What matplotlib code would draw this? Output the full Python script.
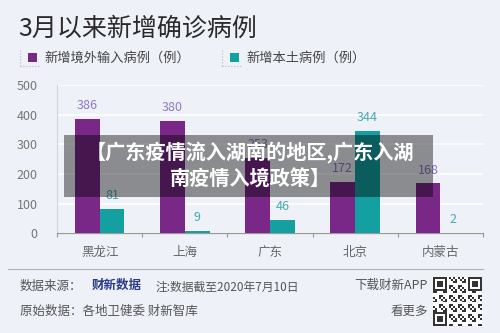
"""
3月以来新增确诊病例 - bar chart recreation
"""

import numpy as np
import matplotlib
matplotlib.use('Agg')
import matplotlib.pyplot as plt
from matplotlib.patches import Rectangle
from matplotlib.lines import Line2D

plt.rcParams['font.family'] = ['Noto Sans CJK SC', 'DejaVu Sans']

#---------------------------------------------------------------------------------------------------
# Data
#---------------------------------------------------------------------------------------------------

regions = ['黑龙江', '上海', '广东', '北京', '内蒙古']
imported = [386, 380, 253, 172, 168]
local = [81, 9, 46, 344, 2]
series_names = ['新增境外输入病例（例）', '新增本土病例（例）']
yticks = [0, 100, 200, 300, 400, 500]

#---------------------------------------------------------------------------------------------------
# Styles
#---------------------------------------------------------------------------------------------------

bg = '#eef1f7'
purple = '#7a2888'
teal = '#14a0a0'
purple_lbl = '#9078c6'
teal_lbl = '#45abad'
W, H = 500, 333

fig = plt.figure(figsize=(5, 3.33), dpi=100, facecolor=bg)

# Title and legend
fig.text(18/W, 1-29/H, '3月以来新增确诊病例', fontsize=18, color='#2a2a2a', va='center', ha='left')

for x0, col, name in [(20, purple, series_names[0]), (222, teal, series_names[1])]:
    fig.patches.append(Rectangle(((x0+8)/W, 1-62/H), 9/W, 9/H, transform=fig.transFigure,
                                 facecolor=col, edgecolor='none'))
    fig.lines.append(Line2D([x0/W, x0/W], [1-50/H, 1-66/H], transform=fig.transFigure,
                            color='#b5bac5', lw=0.8, ls=':'))
    fig.lines.append(Line2D([x0/W, (x0+20)/W], [1-66/H, 1-66/H], transform=fig.transFigure,
                            color='#b5bac5', lw=0.8, ls=':'))
    fig.text((x0+24)/W, 1-58/H, name, fontsize=9.5, color='#444444', va='center', ha='left')

# Main axes
ax = fig.add_axes([57/W, 1-233.3/H, 426/W, 148.3/H])
ax.set_facecolor(bg)
x = np.arange(len(regions))
bw = 0.29
ax.bar(x - bw, imported, width=bw, align='edge', color=purple, zorder=3)
ax.bar(x, local, width=bw, align='edge', color=teal, zorder=3)

for xi, v in zip(x, imported):
    ax.annotate(str(v), (xi - bw/2, v), xytext=(0, 5), textcoords='offset points',
                ha='center', va='bottom', fontsize=9, color=purple_lbl)
for xi, v in zip(x, local):
    ax.annotate(str(v), (xi + bw/2, v), xytext=(0, 5), textcoords='offset points',
                ha='center', va='bottom', fontsize=9, color=teal_lbl)

ax.set_xlim(-0.5, len(regions) - 0.5)
ax.set_ylim(0, 500)
ax.set_yticks(yticks)
ax.set_yticklabels([str(t) for t in yticks], fontsize=9, color='#777777')
ax.tick_params(axis='y', length=0, pad=14)
ax.grid(axis='y', color='white', lw=1.2, zorder=0)

ax.set_xticks(x)
ax.set_xticklabels(regions, fontsize=9, color='#666666')
ax.tick_params(axis='x', which='major', length=0, pad=9)
ax.set_xticks(np.arange(-0.5, len(regions)), minor=True)
ax.tick_params(axis='x', which='minor', length=3, color='#999999', width=0.8)

for s in ['top', 'right']:
    ax.spines[s].set_visible(False)
ax.spines['bottom'].set_color('#999999')
ax.spines['left'].set_color('#d0d4dc')
ax.spines['bottom'].set_linewidth(0.9)
ax.spines['left'].set_linewidth(0.8)

# Footer
fig.lines.append(Line2D([8/W, 483/W], [1-269/H, 1-269/H], transform=fig.transFigure,
                        color='#b0b4bc', lw=0.8))
fig.text(20/W, 1-286/H, '数据来源：', fontsize=9, color='#555555', va='center')
fig.text(92/W, 1-285/H, '财新数据', fontsize=9, color='#2b3a8c', va='center', weight='bold')
fig.text(155/W, 1-287/H, '注:数据截至2020年7月10日', fontsize=8.5, color='#555555', va='center')
fig.text(428/W, 1-285/H, '下载财新APP', fontsize=9, color='#555555', va='center', ha='right')
fig.text(20/W, 1-311/H, '原始数据：各地卫健委 财新智库', fontsize=9, color='#555555', va='center')
fig.text(428/W, 1-311/H, '看更多', fontsize=9, color='#555555', va='center', ha='right')

# QR-like decoration
qr = fig.add_axes([433/W, 1-326/H, 49/W, 49/H])
n = 25
ii, jj = np.meshgrid(np.arange(n), np.arange(n))
pat = ((ii * 7 + jj * 3 + ii * jj) % 5 < 2).astype(float)
for (r, c) in [(0, 0), (0, n-7), (n-7, 0)]:
    pat[r:r+7, c:c+7] = 1
    pat[r+1:r+6, c+1:c+6] = 0
    pat[r+2:r+5, c+2:c+5] = 1
qr.imshow(pat, cmap='Greys', interpolation='nearest', vmin=0, vmax=1.2)
qr.axis('off')

# Overlay banner
fig.patches.append(Rectangle((64/W, 1-197/H), 369/W, 62/H, transform=fig.transFigure,
                             facecolor='black', alpha=0.42, edgecolor='none', zorder=10))
fig.text(250/W, 1-153/H, '【广东疫情流入湖南的地区,广东入湖', fontsize=14.5, color='white',
         weight='bold', ha='center', va='center', zorder=11)
fig.text(250/W, 1-179/H, '南疫情入境政策】', fontsize=14.5, color='white',
         weight='bold', ha='center', va='center', zorder=11)

plt.savefig('out.png', dpi=100, facecolor=bg)
